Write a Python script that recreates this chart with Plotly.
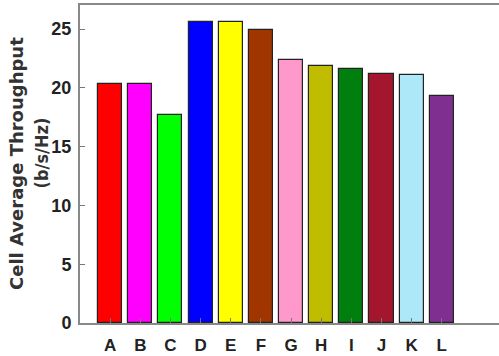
import plotly.graph_objects as go

categories = ["A", "B", "C", "D", "E", "F", "G", "H", "I", "J", "K", "L"]
values = [20.3, 20.3, 17.7, 25.6, 25.6, 24.9, 22.4, 21.9, 21.6, 21.2, 21.1, 19.3]
colors = ["#ff0000", "#ff00ff", "#00ff00", "#0000ff", "#ffff00", "#a03500",
          "#ff99cc", "#c0bc00", "#007f0e", "#a3162e", "#ade8f8", "#7f2f8f"]
positions = list(range(1, len(categories) + 1))
y_ticks = [0, 5, 10, 15, 20, 25]
title_lines = ["Cell Average Throughput", "(b/s/Hz)"]

fig = go.Figure()
fig.add_trace(go.Bar(
    x=positions, y=values, width=0.8,
    marker=dict(color=colors, line=dict(color="#222222", width=1.2)),
))

tick_font_y = dict(family="Liberation Sans, Arial", size=18, color="#222222")
tick_font_x = dict(family="Liberation Sans, Arial", size=17, color="#222222")
title_font1 = dict(family="DejaVu Sans", size=18, color="#333333")
title_font2 = dict(family="DejaVu Sans Condensed, DejaVu Sans", size=18, color="#333333")

fig.update_layout(
    width=499, height=356,
    margin=dict(l=80, r=0, t=5, b=33),
    plot_bgcolor="white", paper_bgcolor="white",
    showlegend=False,
    bargap=0,
    xaxis=dict(
        range=[0, 13.9],
        tickvals=positions, ticktext=["<b>%s</b>" % c for c in categories],
        tickfont=tick_font_x, ticklabelstandoff=6,
        ticks="inside", ticklen=5, tickcolor="#777777", tickwidth=1,
        showline=True, linecolor="#888888", linewidth=2, mirror=True,
        showgrid=False, zeroline=False,
    ),
    yaxis=dict(
        range=[0, 27.05],
        tickvals=y_ticks, ticktext=["<b>%d</b>" % v for v in y_ticks],
        tickfont=tick_font_y, ticklabelstandoff=3,
        ticks="inside", ticklen=5, tickcolor="#777777", tickwidth=1,
        showline=True, linecolor="#888888", linewidth=2,
        showgrid=False, zeroline=False,
    ),
    annotations=[
        dict(text="<b>%s</b>" % title_lines[0], textangle=-90, font=title_font1,
             xref="paper", yref="paper", x=0, y=0.5, xanchor="center",
             yanchor="middle", xshift=-64, showarrow=False),
        dict(text="<b>%s</b>" % title_lines[1], textangle=-90, font=title_font2,
             xref="paper", yref="paper", x=0, y=0.5, xanchor="center",
             yanchor="middle", xshift=-39, yshift=10.5, showarrow=False),
    ],
)

fig.write_html("out.html")
